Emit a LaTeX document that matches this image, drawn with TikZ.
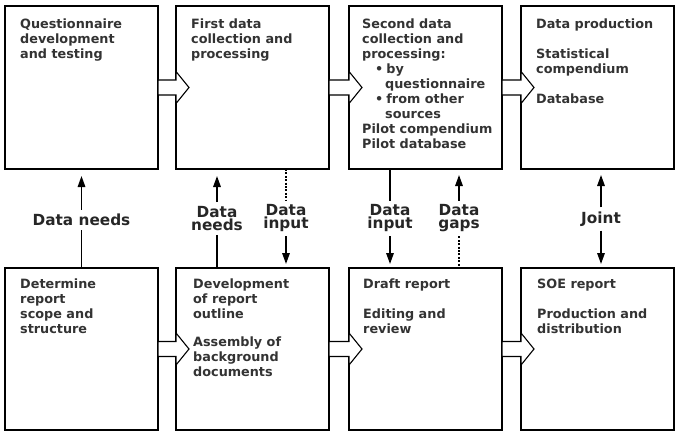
\documentclass[tikz,border=0pt]{standalone}
\usepackage{fontspec}
\setmainfont{DejaVu Sans}
\usetikzlibrary{arrows.meta}

\tikzset{
  stage/.style={draw, line width=1.2pt, minimum width=153pt, inner sep=0pt, outer sep=0pt, anchor=north west},
  stagetext/.style={anchor=north west, inner sep=0pt, align=left, text=black!80, font=\bfseries\fontsize{12.8}{15}\selectfont},
  flowlabel/.style={align=center, inner sep=4pt, text=black!85, font=\bfseries\fontsize{15.3}{13}\selectfont},
  flow/.style={draw, fill=white, line width=1.1pt, line join=miter},
  link/.style={line width=1.6pt},
  linkdots/.style={line width=1.6pt, dash pattern=on 2pt off 1.4pt},
  tip/.style={-{Triangle[length=11pt,width=7.5pt]}}
}

\begin{document}
\begin{tikzpicture}[x=1pt,y=1pt,yscale=-1,xscale=1]
    \useasboundingbox (0,0) rectangle (676,433);

    %Shape: Rectangle top row
    \node [stage, minimum height=163pt] (quest) at (5,6) {};
    \node [stage, minimum height=163pt] (first) at (176,6) {};
    \node [stage, minimum height=163pt] (second) at (349,6) {};
    \node [stage, minimum height=163pt] (prod) at (521,6) {};
    %Shape: Rectangle bottom row
    \node [stage, minimum height=162pt] (scope) at (5,268) {};
    \node [stage, minimum height=162pt] (outline) at (176,268) {};
    \node [stage, minimum height=162pt] (draft) at (349,268) {};
    \node [stage, minimum height=162pt] (soe) at (521,268) {};

    %Shape: Block Arrows top row
    \draw [flow] ([yshift=7.5pt]quest.east) -- ([yshift=7.5pt]first.west) -- ([yshift=16pt]first.west) -- ([xshift=13pt]first.west) -- ([yshift=-16pt]first.west) -- ([yshift=-7.5pt]first.west) -- ([yshift=-7.5pt]quest.east) -- cycle ;
    \draw [flow] ([yshift=7.5pt]first.east) -- ([yshift=7.5pt]second.west) -- ([yshift=16pt]second.west) -- ([xshift=13pt]second.west) -- ([yshift=-16pt]second.west) -- ([yshift=-7.5pt]second.west) -- ([yshift=-7.5pt]first.east) -- cycle ;
    \draw [flow] ([yshift=7.5pt]second.east) -- ([yshift=7.5pt]prod.west) -- ([yshift=16pt]prod.west) -- ([xshift=13pt]prod.west) -- ([yshift=-16pt]prod.west) -- ([yshift=-7.5pt]prod.west) -- ([yshift=-7.5pt]second.east) -- cycle ;
    %Shape: Block Arrows bottom row
    \draw [flow] ([yshift=7.5pt]scope.east) -- ([yshift=7.5pt]outline.west) -- ([yshift=16pt]outline.west) -- ([xshift=13pt]outline.west) -- ([yshift=-16pt]outline.west) -- ([yshift=-7.5pt]outline.west) -- ([yshift=-7.5pt]scope.east) -- cycle ;
    \draw [flow] ([yshift=7.5pt]outline.east) -- ([yshift=7.5pt]draft.west) -- ([yshift=16pt]draft.west) -- ([xshift=13pt]draft.west) -- ([yshift=-16pt]draft.west) -- ([yshift=-7.5pt]draft.west) -- ([yshift=-7.5pt]outline.east) -- cycle ;
    \draw [flow] ([yshift=7.5pt]draft.east) -- ([yshift=7.5pt]soe.west) -- ([yshift=16pt]soe.west) -- ([xshift=13pt]soe.west) -- ([yshift=-16pt]soe.west) -- ([yshift=-7.5pt]soe.west) -- ([yshift=-7.5pt]draft.east) -- cycle ;

    % Text Node
    \node [stagetext] (questtxt) at ([xshift=15pt,yshift=12.5pt]quest.north west) {Questionnaire\\development\\and testing};
    % Text Node
    \node [stagetext] (firsttxt) at ([xshift=15pt,yshift=12.5pt]first.north west) {First data\\collection and\\processing};
    % Text Node
    \node [stagetext] (secondtxt) at ([xshift=13pt,yshift=12.5pt]second.north west) {Second data\\collection and\\processing:\\\hspace*{13pt}\textbullet\hspace{3pt}by\\\hspace*{23pt}questionnaire\\\hspace*{13pt}\textbullet\hspace{3pt}from other\\\hspace*{23pt}sources\\Pilot compendium\\Pilot database};
    % Text Node
    \node [stagetext] (prodtxt) at ([xshift=15pt,yshift=12.5pt]prod.north west) {Data production\\[15pt]Statistical\\compendium\\[15pt]Database};
    % Text Node
    \node [stagetext] (scopetxt) at ([xshift=15pt,yshift=10.5pt]scope.north west) {Determine\\report\\scope and\\structure};
    % Text Node
    \node [stagetext] (outlinetxt) at ([xshift=17pt,yshift=10.5pt]outline.north west) {Development\\of report\\outline\\[13pt]Assembly of\\background\\documents};
    % Text Node
    \node [stagetext] (drafttxt) at ([xshift=14pt,yshift=10.5pt]draft.north west) {Draft report\\[15pt]Editing and\\review};
    % Text Node
    \node [stagetext] (soetxt) at ([xshift=16pt,yshift=10.5pt]soe.north west) {SOE report\\[15pt]Production and\\distribution};

    % Text Node
    \node [flowlabel] (needsA) at (81.5,220) {Data needs};
    \node [flowlabel] (needsB) at (217,218.5) {Data\\needs};
    \node [flowlabel] (inputA) at (286,218.5) {Data\\input};
    \node [flowlabel] (inputB) at (390,218.5) {Data\\input};
    \node [flowlabel] (gaps) at (459,218.5) {Data\\gaps};
    \node [flowlabel] (joint) at (601,219) {Joint};

    %Straight Lines
    \draw [link, tip, shorten >=7pt] (needsA.north) -- (needsA.north |- quest.south) ;
    \draw [link] (needsA.south) -- (needsA.south |- scope.north) ;
    \draw [link, tip, shorten >=7pt] (needsB.north) -- (needsB.north |- first.south) ;
    \draw [link] (needsB.south) -- (needsB.south |- outline.north) ;
    \draw [linkdots] (inputA.north |- first.south) -- (inputA.north) ;
    \draw [link, tip, shorten >=4pt] (inputA.south) -- (inputA.south |- outline.north) ;
    \draw [link] (inputB.north |- second.south) -- (inputB.north) ;
    \draw [link, tip, shorten >=4pt] (inputB.south) -- (inputB.south |- draft.north) ;
    \draw [link, tip, shorten >=6pt] (gaps.north) -- (gaps.north |- second.south) ;
    \draw [linkdots] (gaps.south) -- (gaps.south |- draft.north) ;
    \draw [link, tip, shorten >=6pt] (joint.north) -- (joint.north |- prod.south) ;
    \draw [link, tip, shorten >=4pt] (joint.south) -- (joint.south |- soe.north) ;

\end{tikzpicture}
\end{document}
